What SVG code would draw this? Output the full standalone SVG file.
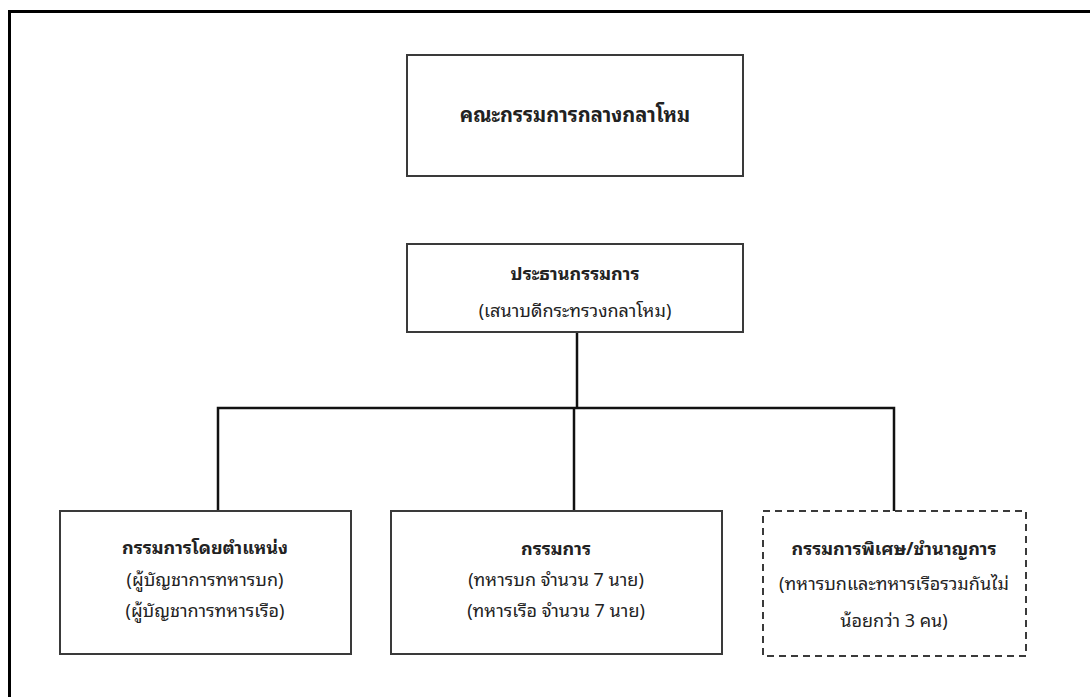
<svg xmlns="http://www.w3.org/2000/svg" width="1090" height="697" viewBox="0 0 1090 697">
<style>
.box{fill:#fff;stroke:#3a3a3a;stroke-width:2}
.dash{fill:#fff;stroke:#3a3a3a;stroke-width:2;stroke-dasharray:7 5}
.con{fill:none;stroke:#111;stroke-width:2.5}
text{font-family:"Noto Sans Thai Looped","Noto Sans Thai","Noto Sans","DejaVu Sans",sans-serif;fill:#222;text-anchor:middle;font-size:18px;font-weight:normal}
.t{font-weight:bold;font-size:18px}
.h{font-size:20px}
</style>
<rect x="0" y="0" width="1090" height="697" fill="#fff"/>
<path d="M9.5 697 V11.5 H1090" fill="none" stroke="#000" stroke-width="3"/>
<g id="connectors">
<path class="con" d="M577 332 V408"/>
<path class="con" d="M218 511 V408 H894 V511"/>
<path class="con" d="M574 408 V511"/>
</g>
<g id="node-committee">
<rect class="box" x="407" y="55" width="336" height="121"/>
<text class="t h" x="575" y="122">คณะกรรมการกลางกลาโหม</text>
</g>
<g id="node-chairman">
<rect class="box" x="407" y="244" width="336" height="88"/>
<text class="t" x="575" y="280">ประธานกรรมการ</text>
<text x="575" y="317">(เสนาบดีกระทรวงกลาโหม)</text>
</g>
<g id="node-exofficio">
<rect class="box" x="60" y="511" width="291" height="143"/>
<text class="t" x="205" y="554">กรรมการโดยตำแหน่ง</text>
<text x="205" y="586">(ผู้บัญชาการทหารบก)</text>
<text x="205" y="617">(ผู้บัญชาการทหารเรือ)</text>
</g>
<g id="node-members">
<rect class="box" x="391" y="511" width="331" height="143"/>
<text class="t" x="556" y="555">กรรมการ</text>
<text x="556" y="586">(ทหารบก จำนวน 7 นาย)</text>
<text x="556" y="617">(ทหารเรือ จำนวน 7 นาย)</text>
</g>
<g id="node-special">
<rect class="dash" x="763" y="511" width="263" height="145"/>
<text class="t" x="894" y="555">กรรมการพิเศษ/ชำนาญการ</text>
<text x="894" y="590">(ทหารบกและทหารเรือรวมกันไม่</text>
<text x="894" y="627">น้อยกว่า 3 คน)</text>
</g>
</svg>
